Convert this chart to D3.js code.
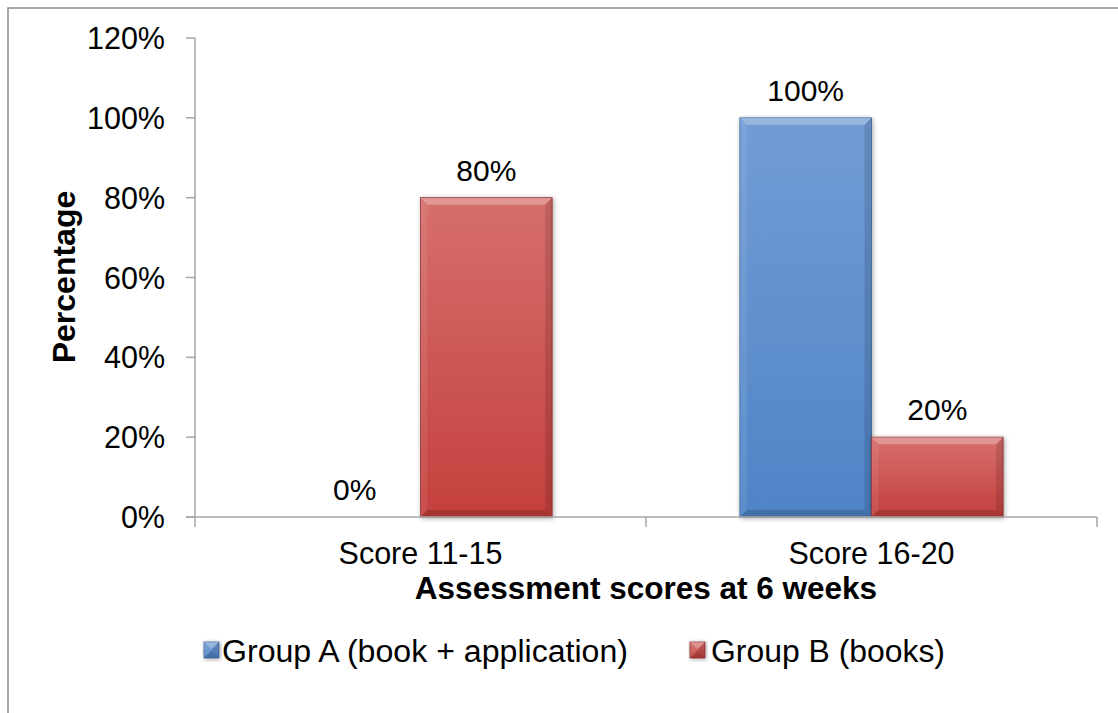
<!DOCTYPE html>
<html>
<head>
<meta charset="utf-8">
<script src="https://cdn.jsdelivr.net/npm/d3@7"></script>
<style>
  body { margin: 0; background: #fff; }
  svg { display: block; font-family: "Liberation Sans", Arial, sans-serif; }
</style>
</head>
<body>
<svg id="chart" width="1118" height="713"></svg>
<script>
// datos del grafico
var categorias = ["Score 11-15", "Score 16-20"];
var series = ["Group A (book + application)", "Group B (books)"];
var grupoA = [0, 100];
var grupoB = [80, 20];
var ticksY = [0, 20, 40, 60, 80, 100, 120];

var colores = {
  "Group A (book + application)": { top: "#719dd5", bottom: "#4f84c7", edge: "#3d6596" },
  "Group B (books)": { top: "#d66f6d", bottom: "#c4403d", edge: "#8e2f2d" }
};

var svg = d3.select("#chart");
var margen = { left: 195, right: 1097, top: 38, bottom: 517 };

// marco exterior (sale por la derecha y abajo)
svg.append("rect")
  .attr("x", 8).attr("y", 8)
  .attr("width", 1300).attr("height", 900)
  .attr("fill", "none").attr("stroke", "#8c8c8c").attr("stroke-width", 1.5);

var x0 = d3.scaleBand().domain(categorias).range([margen.left, margen.right]).paddingInner(0).paddingOuter(0);
var x1 = d3.scaleBand().domain(series).range([0, x0.bandwidth()]).paddingInner(0).paddingOuter(0.713);
var y = d3.scaleLinear().domain([0, 120]).range([margen.bottom, margen.top]);

// gradientes
var defs = svg.append("defs");
series.forEach(function(s, i) {
  var g = defs.append("linearGradient").attr("id", "grad" + i)
    .attr("x1", 0).attr("y1", 0).attr("x2", 0).attr("y2", 1);
  g.append("stop").attr("offset", "0%").attr("stop-color", colores[s].top);
  g.append("stop").attr("offset", "100%").attr("stop-color", colores[s].bottom);
});
var sombra = defs.append("filter").attr("id", "sombra").attr("x", "-20%").attr("y", "-20%").attr("width", "140%").attr("height", "140%");
sombra.append("feGaussianBlur").attr("in", "SourceAlpha").attr("stdDeviation", 2.5);
sombra.append("feOffset").attr("dx", 1).attr("dy", 1).attr("result", "b");
sombra.append("feComponentTransfer").append("feFuncA").attr("type", "linear").attr("slope", 0.35);
var mg = sombra.append("feMerge");
mg.append("feMergeNode");
mg.append("feMergeNode").attr("in", "SourceGraphic");

// eje Y
var ejeY = svg.append("g");
ejeY.append("line")
  .attr("x1", margen.left).attr("x2", margen.left)
  .attr("y1", y(120)).attr("y2", y(0))
  .attr("stroke", "#a6a6a6").attr("stroke-width", 1.5);
ejeY.selectAll(".tick").data(ticksY).enter().append("line")
  .attr("x1", margen.left - 9).attr("x2", margen.left)
  .attr("y1", function(d) { return y(d); }).attr("y2", function(d) { return y(d); })
  .attr("stroke", "#a6a6a6").attr("stroke-width", 1.5);
ejeY.selectAll("text").data(ticksY).enter().append("text")
  .attr("x", 165)
  .attr("y", function(d) { return y(d) + 11; })
  .attr("text-anchor", "end")
  .attr("font-size", 30.5)
  .attr("fill", "#000")
  .text(function(d) { return d + "%"; });

// barras
function dibujarBarra(g, bx, by, bw, bh, i, s) {
  if (bh <= 0) return;
  var b = Math.min(7, bh / 2);
  g.append("rect").attr("x", bx).attr("y", by).attr("width", bw).attr("height", bh)
    .attr("fill", "url(#grad" + i + ")").attr("stroke", colores[s].edge).attr("stroke-width", 0.8)
    .attr("filter", "url(#sombra)");
  // bisel
  g.append("polygon")
    .attr("points", [[bx, by], [bx + bw, by], [bx + bw - b, by + b], [bx + b, by + b]].join(" "))
    .attr("fill", "#fff").attr("opacity", 0.28);
  g.append("polygon")
    .attr("points", [[bx, by], [bx + b, by + b], [bx + b, by + bh - b], [bx, by + bh]].join(" "))
    .attr("fill", "#fff").attr("opacity", 0.08);
  g.append("polygon")
    .attr("points", [[bx + bw, by], [bx + bw, by + bh], [bx + bw - b, by + bh - b], [bx + bw - b, by + b]].join(" "))
    .attr("fill", "#000").attr("opacity", 0.12);
  g.append("polygon")
    .attr("points", [[bx, by + bh], [bx + b, by + bh - b], [bx + bw - b, by + bh - b], [bx + bw, by + bh]].join(" "))
    .attr("fill", "#000").attr("opacity", 0.16);
}

var datos = [];
categorias.forEach(function(c, ci) {
  datos.push({ cat: c, serie: series[0], valor: grupoA[ci], i: 0 });
  datos.push({ cat: c, serie: series[1], valor: grupoB[ci], i: 1 });
});

var barras = svg.append("g");
datos.forEach(function(d) {
  var bx = x0(d.cat) + x1(d.serie);
  dibujarBarra(barras, bx, y(d.valor), x1.bandwidth(), y(0) - y(d.valor), d.i, d.serie);
});

// etiquetas de datos
svg.append("g").selectAll("text").data(datos).enter().append("text")
  .attr("x", function(d) { return x0(d.cat) + x1(d.serie) + x1.bandwidth() / 2; })
  .attr("y", function(d) { return y(d.valor) - 17; })
  .attr("text-anchor", "middle")
  .attr("font-size", 30)
  .text(function(d) { return d.valor + "%"; });

// eje X
var ejeX = svg.append("g");
ejeX.append("line")
  .attr("x1", margen.left - 9).attr("x2", margen.right)
  .attr("y1", y(0)).attr("y2", y(0))
  .attr("stroke", "#a6a6a6").attr("stroke-width", 1.5);
var bordes = [margen.left].concat(categorias.map(function(c) { return x0(c) + x0.bandwidth(); }));
ejeX.selectAll(".tick").data(bordes).enter().append("line")
  .attr("x1", function(d) { return d; }).attr("x2", function(d) { return d; })
  .attr("y1", y(0)).attr("y2", y(0) + 10)
  .attr("stroke", "#a6a6a6").attr("stroke-width", 1.5);
ejeX.selectAll("text").data(categorias).enter().append("text")
  .attr("x", function(d) { return x0(d) + x0.bandwidth() / 2; })
  .attr("y", 564)
  .attr("text-anchor", "middle")
  .attr("font-size", 30.5)
  .text(function(d) { return d; });

// titulos de ejes
svg.append("text")
  .attr("x", (margen.left + margen.right) / 2).attr("y", 599)
  .attr("text-anchor", "middle").attr("font-size", 31.5).attr("font-weight", "bold")
  .text("Assessment scores at 6 weeks");
svg.append("text")
  .attr("transform", "translate(75," + 277 + ") rotate(-90)")
  .attr("text-anchor", "middle").attr("font-size", 32).attr("font-weight", "bold")
  .text("Percentage");

// leyenda
var posLeyenda = [{ mx: 204, tx: 222, w: 406 }, { mx: 690, tx: 711, w: 234 }];
var leyenda = svg.append("g");
series.forEach(function(s, i) {
  var p = posLeyenda[i];
  dibujarBarra(leyenda, p.mx, 642, 15, 16, i, s);
  leyenda.append("text")
    .attr("x", p.tx).attr("y", 662)
    .attr("font-size", 31)
    .attr("textLength", p.w).attr("lengthAdjust", "spacingAndGlyphs")
    .text(s);
});
</script>
</body>
</html>
